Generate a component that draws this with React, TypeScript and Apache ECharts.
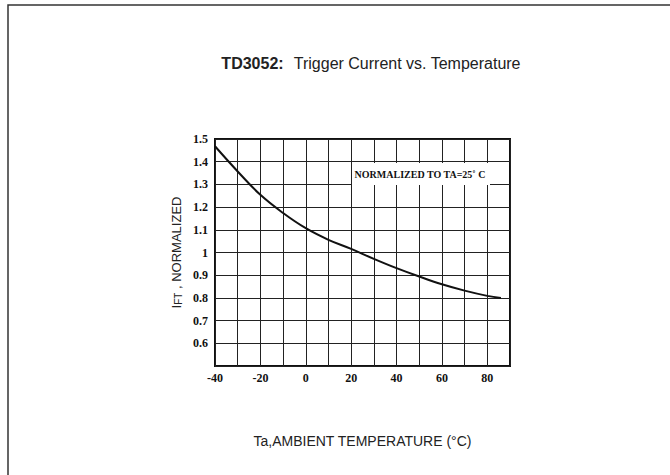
import React, { useEffect, useRef } from "react";
import * as echarts from "echarts";

const temps = [-40, -30, -20, -10, 0, 10, 20, 30, 40, 50, 60, 70, 80, 86];
const iftNorm = [1.468, 1.357, 1.254, 1.174, 1.107, 1.056, 1.016, 0.972, 0.931, 0.894, 0.86, 0.832, 0.809, 0.8];
const xLabels = ["-40", "-20", "0", "20", "40", "60", "80"];
const yLabels = ["0.6", "0.7", "0.8", "0.9", "1", "1.1", "1.2", "1.3", "1.4", "1.5"];

export default function App() {
  const ref = useRef<HTMLDivElement>(null);
  useEffect(() => {
    if (!ref.current) return;
    const chart = echarts.init(ref.current, undefined, { renderer: "svg" });
    const tickFont = {
      fontFamily: "Liberation Serif",
      fontWeight: "bold",
      fontSize: 12,
      color: "#111",
    };
    chart.setOption({
      animation: false,
      backgroundColor: "#fff",
      title: {
        text: "{b|TD3052:}  {n|Trigger Current vs. Temperature}",
        left: 366,
        textAlign: "center",
        top: 49,
        textStyle: {
          rich: {
            b: { fontFamily: "Liberation Sans", fontWeight: "bold", fontSize: 16, color: "#222" },
            n: { fontFamily: "Liberation Sans", fontWeight: "normal", fontSize: 16, color: "#222" },
          },
        },
      },
      grid: { left: 215, top: 139, right: 160, bottom: 109, show: true, borderColor: "#111", borderWidth: 2 },
      xAxis: {
        type: "value",
        min: -40,
        max: 90,
        interval: 10,
        axisLine: { show: false, lineStyle: { color: "#222" } },
        axisTick: { show: false },
        splitLine: { show: true, lineStyle: { color: "#222", width: 1 } },
        axisLabel: {
          ...tickFont,
          margin: 6,
          formatter: (v: number) => (xLabels.includes(String(v)) ? String(v) : ""),
        },
        name: "Ta,AMBIENT TEMPERATURE (°C)",
        nameLocation: "middle",
        nameGap: 68,
        nameTextStyle: { fontFamily: "Liberation Sans", fontSize: 14, color: "#222" },
      },
      yAxis: {
        type: "value",
        min: 0.5,
        max: 1.5,
        interval: 0.1,
        axisLine: { show: false, lineStyle: { color: "#222" } },
        axisTick: { show: false },
        splitLine: { show: true, lineStyle: { color: "#222", width: 1 } },
        axisLabel: {
          ...tickFont,
          margin: 7,
          formatter: (v: number) => {
            const s = String(Math.round(v * 10) / 10);
            return yLabels.includes(s) ? s : "";
          },
        },
        name: "{i|I}{s|FT}{i| , NORMALIZED}",
        nameLocation: "middle",
        nameGap: 32,
        nameRotate: 90,
        nameTextStyle: {
          color: "#222",
          fontFamily: "Liberation Sans",
          fontSize: 13,
          rich: {
            i: { fontFamily: "Liberation Sans", fontSize: 13, color: "#222" },
            s: { fontFamily: "Liberation Sans", fontSize: 10, color: "#222", padding: [4, 0, 0, 0] },
          },
        },
      },
      series: [
        {
          type: "line",
          data: temps.map((t, i) => [t, iftNorm[i]]),
          smooth: 0.4,
          symbol: "none",
          lineStyle: { color: "#111", width: 2 },
        },
      ],
      graphic: [
        {
          type: "rect",
          shape: { x: 8, y: 5, width: 700, height: 500 },
          style: { fill: "none", stroke: "#333", lineWidth: 1.5 },
          silent: true,
        },
        {
          type: "rect",
          shape: { x: 352, y: 163, width: 138, height: 22 },
          style: { fill: "#fff", stroke: "none" },
          z: 100,
        },
        {
          type: "text",
          x: 420,
          y: 174,
          z: 101,
          style: {
            text: "NORMALIZED TO TA=25˚ C",
            fontFamily: "Liberation Serif",
            fontWeight: "bold",
            fontSize: 10,
            fill: "#111",
            align: "center",
            verticalAlign: "middle",
          },
        },
      ],
    });
    return () => chart.dispose();
  }, []);
  return <div ref={ref} style={{ position: "absolute", left: 0, top: 0, width: 670, height: 475 }} />;
}
